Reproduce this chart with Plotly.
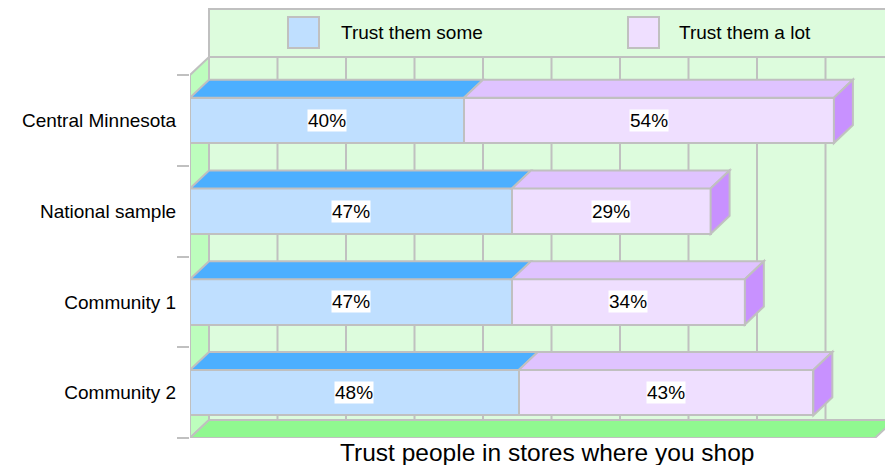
import plotly.graph_objects as go

# ---------------- data ----------------
categories = ["Central Minnesota", "National sample", "Community 1", "Community 2"]
series_names = ["Trust them some", "Trust them a lot"]
trust_some = [40, 47, 47, 48]
trust_lot = [54, 29, 34, 43]
x_title = "Trust people in stores where you shop"

# ---------------- style ----------------
FONT = "Liberation Sans, Arial, Helvetica, sans-serif"
GREY = "#c0c0c0"
front_colors = ["#bfdfff", "#efdfff"]
top_colors = ["#4cafff", "#dfc3ff"]
side_colors = ["#4cafff", "#c891ff"]
BACK = "#ddfcdd"
LEFTWALL = "#bdfdbd"
FLOOR = "#90f890"
LABEL_SIZE = 19
TITLE_SIZE = 24.5

W, H = 885, 465
ML, MR, MT, MB = 190, 0, 8, 27
PX_PER_X = 6.85                      # pixels per percent on the front plane
plot_w = W - ML - MR
plot_h = H - MT - MB
x_max = plot_w / PX_PER_X
front_top_px = 75
y_unit = (H - MB - front_top_px) / len(categories)
y_top = -0.5 - (front_top_px - MT) / y_unit
y_bot = len(categories) - 0.5
DX = 19 / PX_PER_X                   # depth offset in x units
DY = 18 / y_unit                     # depth offset in y units
BAR_W = 0.5

ypos = list(range(len(categories)))
series = [trust_some, trust_lot]


def path(pts):
    return "M " + " L ".join(f"{x},{y}" for x, y in pts) + " Z"


shapes = []
# back wall (plot region) and legend panel above it
shapes.append(dict(type="path", xref="x", yref="y", layer="below",
                   path=path([(DX, -0.5 - DY), (100 + DX, -0.5 - DY), (100 + DX, y_bot - DY), (DX, y_bot - DY)]),
                   fillcolor=BACK, line=dict(color=GREY, width=2)))
shapes.append(dict(type="path", xref="x", yref="y", layer="below",
                   path=path([(DX, y_top + 0.01), (100 + DX, y_top + 0.01), (100 + DX, -0.5 - DY), (DX, -0.5 - DY)]),
                   fillcolor=BACK, line=dict(color=GREY, width=2)))
# back wall gridlines
for g in range(10, 100, 10):
    shapes.append(dict(type="line", xref="x", yref="y", layer="below",
                       x0=g + DX, x1=g + DX, y0=-0.5 - DY, y1=y_bot - DY,
                       line=dict(color=GREY, width=2)))
# left wall
shapes.append(dict(type="path", xref="x", yref="y", layer="below",
                   path=path([(0, -0.5), (DX, -0.5 - DY), (DX, y_bot - DY), (0, y_bot)]),
                   fillcolor=LEFTWALL, line=dict(color=GREY, width=2)))
# floor
shapes.append(dict(type="path", xref="x", yref="y", layer="below",
                   path=path([(0, y_bot), (100, y_bot), (100 + DX, y_bot - DY), (DX, y_bot - DY)]),
                   fillcolor=FLOOR, line=dict(color=GREY, width=2)))

fig = go.Figure()
annotations = []
for i, y in enumerate(ypos):
    base = 0
    top_y = y - BAR_W / 2
    bot_y = y + BAR_W / 2
    for s, vals in enumerate(series):
        v = vals[i]
        a, b = base, base + v
        # top face
        shapes.append(dict(type="path", xref="x", yref="y", layer="above",
                           path=path([(a, top_y), (a + DX, top_y - DY), (b + DX, top_y - DY), (b, top_y)]),
                           fillcolor=top_colors[s], line=dict(color=GREY, width=2)))
        if s == len(series) - 1:
            shapes.append(dict(type="path", xref="x", yref="y", layer="above",
                               path=path([(b, top_y), (b + DX, top_y - DY), (b + DX, bot_y - DY), (b, bot_y)]),
                               fillcolor=side_colors[s], line=dict(color=GREY, width=2)))
        annotations.append(dict(x=(a + b) / 2, y=y, xref="x", yref="y", text=f"{v}%",
                                showarrow=False, bgcolor="white", borderpad=0,
                                font=dict(family=FONT, size=LABEL_SIZE, color="black")))
        base = b

for s, vals in enumerate(series):
    fig.add_trace(go.Bar(y=ypos, x=vals, orientation="h", width=BAR_W, name=series_names[s],
                         marker=dict(color=front_colors[s], line=dict(color=GREY, width=2)),
                         showlegend=False, hoverinfo="skip"))


def px_to_paper_x(px):
    return (px - ML) / plot_w


def px_to_paper_y(py):
    return (H - MB - py) / plot_h


# custom legend inside the top panel
legend_box_x = [288, 628]
legend_text_x = [339, 677]
for s in range(len(series)):
    shapes.append(dict(type="rect", xref="paper", yref="paper", layer="above",
                       x0=px_to_paper_x(legend_box_x[s]), x1=px_to_paper_x(legend_box_x[s] + 31),
                       y0=px_to_paper_y(48), y1=px_to_paper_y(17),
                       fillcolor=front_colors[s], line=dict(color=GREY, width=2)))
    annotations.append(dict(x=px_to_paper_x(legend_text_x[s]), y=px_to_paper_y(32.5), xref="paper", yref="paper",
                            xanchor="left", yanchor="middle", text=series_names[s], showarrow=False,
                            font=dict(family=FONT, size=LABEL_SIZE, color="black")))

annotations.append(dict(x=px_to_paper_x(547), y=px_to_paper_y(452), xref="paper", yref="paper",
                        xanchor="center", yanchor="middle", text=x_title, showarrow=False,
                        font=dict(family=FONT, size=TITLE_SIZE, color="black")))

fig.update_layout(
    width=W, height=H,
    margin=dict(l=ML, r=MR, t=MT, b=MB, pad=0),
    paper_bgcolor="white", plot_bgcolor="white",
    barmode="stack",
    shapes=shapes, annotations=annotations,
    showlegend=False,
    font=dict(family=FONT, color="black"),
    xaxis=dict(range=[0, x_max], showgrid=False, zeroline=False, showticklabels=False,
               ticks="", showline=False, fixedrange=True),
    yaxis=dict(range=[y_bot, y_top], tickmode="array", tickvals=ypos, ticktext=categories,
               ticks="outside", ticklen=9, tickcolor="rgba(0,0,0,0)",
               tickfont=dict(family=FONT, size=LABEL_SIZE, color="black"),
               showgrid=False, zeroline=False, showline=False,
               minor=dict(tickmode="array", tickvals=[k - 0.5 for k in range(len(categories) + 1)],
                          ticks="outside", ticklen=12, tickcolor=GREY, tickwidth=2, showgrid=False),
               fixedrange=True),
)

fig.write_html("out.html", config={"displayModeBar": False, "staticPlot": True})

# remove the browser's default page margin so the figure sits at the window's top-left corner
with open("out.html", "r", encoding="utf-8") as f:
    html = f.read()
html = html.replace("<body>", '<body style="margin:0;padding:0;">', 1)
with open("out.html", "w", encoding="utf-8") as f:
    f.write(html)
